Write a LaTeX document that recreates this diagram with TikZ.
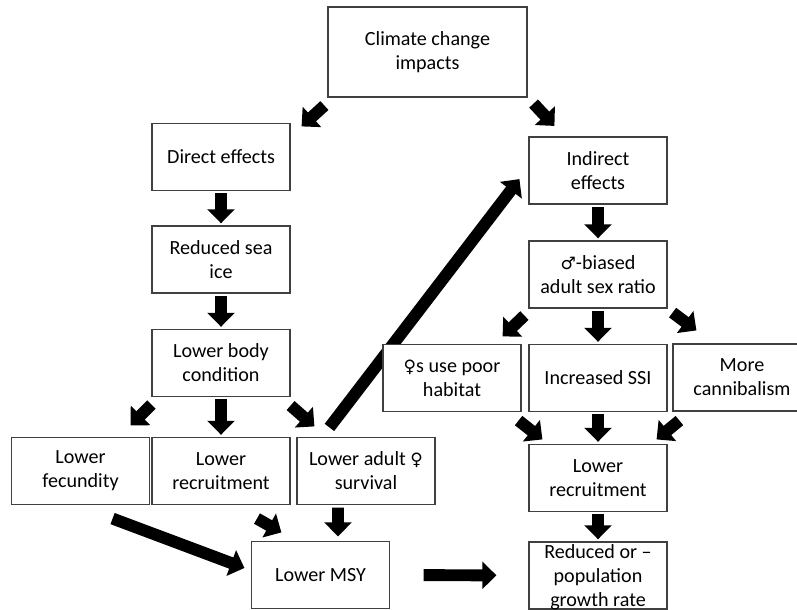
\documentclass[tikz,border=0pt]{standalone}
\usepackage{fontspec}
\setmainfont{Carlito}
\newfontfamily\symfont[Scale=0.85]{DejaVu Sans}
\usetikzlibrary{arrows.meta, backgrounds}
\newcommand{\fem}{{\symfont ♀}}
\newcommand{\mal}{{\symfont ♂}}

\begin{document}
\begin{tikzpicture}[x=0.025cm, y=-0.025cm,
  font=\fontsize{14.3}{17}\selectfont,
  box/.style={draw=black!75, line width=0.8pt, fill=white, align=center,
    inner sep=0pt, minimum width=3.45cm, minimum height=1.675cm},
  blockarrow/.style={line width=8.5pt, -{Triangle[width=19pt,length=10pt]}},
  vstep/.style={blockarrow, shorten <=1.5pt, shorten >=1.5pt}]
  \useasboundingbox (0,0) rectangle (797,610);

  % top
  \node[box, minimum width=4.975cm, minimum height=2.25cm] (climate) at (427.5,52) {Climate change\\impacts};

  % direct effects column
  \node[box] (direct) at (221,157) {Direct effects};
  \node[box] (sea) at (221,259.5) {Reduced sea\\ice};
  \node[box] (body) at (221,363) {Lower body\\condition};
  \node[box] (fecund) at (80.5,471) {Lower\\fecundity};
  \node[box] (recleft) at (221,471) {Lower\\recruitment};
  \node[box] (surv) at (366,471) {Lower adult \fem\\survival};
  \node[box] (msy) at (320.5,575) {Lower MSY};

  % indirect effects column
  \node[box] (indirect) at (598,170.5) {Indirect\\effects};
  \node[box] (sexratio) at (598,274.5) {\mal-biased\\adult sex ratio};
  \node[box] (habitat) at (452,378) {\fem s use poor\\habitat};
  \node[box] (ssi) at (598,378) {Increased SSI};
  \node[box] (cannib) at (742,377.5) {More\\cannibalism};
  \node[box] (recright) at (598,478) {Lower\\recruitment};
  \node[box, label={[align=center, yshift=-0.05cm]center:{Reduced or --\\population\\growth rate}}] (growth) at (598,575.5) {};

  % straight down
  \foreach \a/\b in {direct/sea, sea/body, body/recleft, indirect/sexratio, sexratio/ssi, ssi/recright, recright/growth}
    \draw[vstep] (\a) -- (\b);

  % slanted ones
  \draw[blockarrow] ([shift={(-3,8)}]climate.south west) -- ([shift={(11,3.5)}]direct.north east);
  \draw[blockarrow] ([shift={(6,6)}]climate.south east) -- ([shift={(26,-10.5)}]indirect.north west);
  \draw[blockarrow] ([shift={(0,7.5)}]body.south west) -- ([shift={(-19.5,-11.5)}]fecund.north east);
  \draw[blockarrow] ([shift={(0,8.5)}]body.south east) -- ([shift={(18,-10.5)}]surv.north west);
  \draw[blockarrow] ([shift={(-37.5,13.5)}]fecund.south east) -- ([shift={(-6.5,-7)}]msy.west);
  \draw[blockarrow] ([shift={(36,13.5)}]recleft.south) -- ([shift={(30.5,-8.5)}]msy.north west);
  \draw[blockarrow] ([shift={(-28,2.5)}]surv.south) -- ([shift={(17.5,-4.5)}]msy.north);
  \draw[blockarrow, shorten <=0.84cm, shorten >=0.8cm] (msy) -- (growth);
  \draw[blockarrow] ([shift={(-4,7)}]sexratio.south west) -- ([shift={(-19,-7.5)}]habitat.north east);
  \draw[blockarrow] ([shift={(5,4)}]sexratio.south east) -- ([shift={(24,-13)}]cannib.north west);
  \draw[blockarrow] ([shift={(-3,8.5)}]habitat.south east) -- ([shift={(14,-4.5)}]recright.north west);
  \draw[blockarrow] ([shift={(7,9)}]cannib.south west) -- ([shift={(-11,-4.5)}]recright.north east);

  % long one runs behind the habitat box
  \begin{pgfonlayer}{background}
    \draw[blockarrow] ([shift={(33,-9.5)}]surv.north west) -- ([shift={(-9,-25.5)}]indirect.south west);
  \end{pgfonlayer}
\end{tikzpicture}
\end{document}
